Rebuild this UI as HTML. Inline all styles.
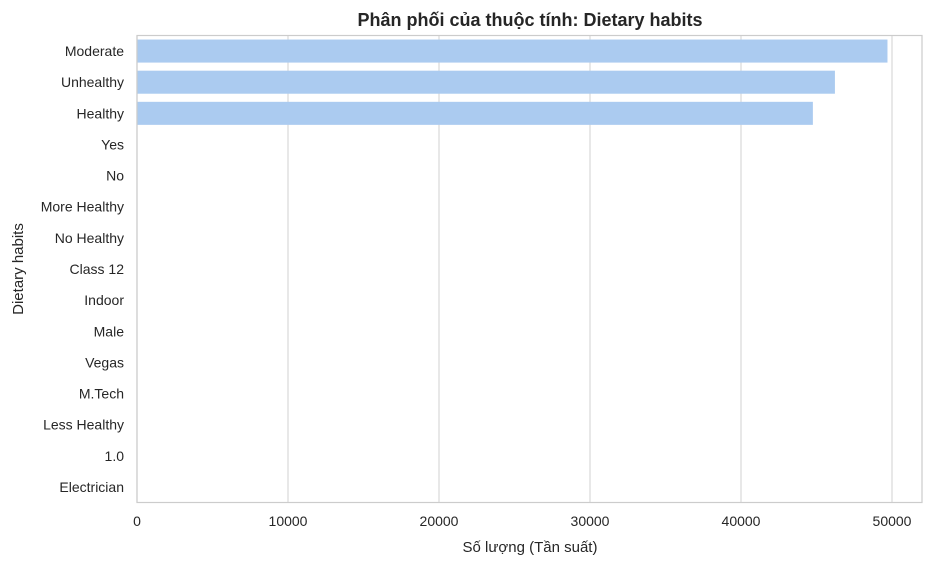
<!DOCTYPE html>
<html><head><meta charset="utf-8"><style>
body{margin:0;background:#fff;}
svg text{font-family:"Liberation Sans",sans-serif;fill:#262626;}
</style></head><body>
<svg id="chart" width="934" height="564">
<text x="530" y="26" text-anchor="middle" font-size="18" font-weight="bold">Phân phối của thuộc tính: Dietary habits</text>
<g id="grid"></g><g id="bars"></g><g id="ylabels"></g><g id="xlabels"></g>
<rect x="137" y="35.5" width="785" height="467" fill="none" stroke="#cccccc" stroke-width="1.2"/>
<text x="530" y="552" text-anchor="middle" font-size="15">Số lượng (Tần suất)</text>
<text transform="translate(23,269) rotate(-90)" text-anchor="middle" font-size="15">Dietary habits</text>
</svg>
<script>
const categories=["Moderate","Unhealthy","Healthy","Yes","No","More Healthy","No Healthy","Class 12","Indoor","Male","Vegas","M.Tech","Less Healthy","1.0","Electrician"];
const counts=[49700,46220,44760,2,2,2,2,1,1,1,1,1,1,1,1];
const xTicks=[0,10000,20000,30000,40000,50000];
const ns="http://www.w3.org/2000/svg";
const L=137,T=35.5,B=502.5,scale=151/10000;
const band=(B-T)/categories.length;
const x=v=>L+v*scale;
const y=i=>T+i*band;
const grid=document.getElementById('grid'),bars=document.getElementById('bars'),yl=document.getElementById('ylabels'),xl=document.getElementById('xlabels');
xTicks.forEach(t=>{
 const ln=document.createElementNS(ns,'line');
 ln.setAttribute('x1',x(t));ln.setAttribute('x2',x(t));ln.setAttribute('y1',T);ln.setAttribute('y2',B);
 ln.setAttribute('stroke','#d9d9d9');ln.setAttribute('stroke-width','1.2');
 
 
 grid.appendChild(ln);
 const tx=document.createElementNS(ns,'text');
 tx.setAttribute('x',x(t));tx.setAttribute('y',526);tx.setAttribute('text-anchor','middle');tx.setAttribute('font-size','14');
 tx.textContent=t;
 
 
 xl.appendChild(tx);
});
categories.forEach((c,i)=>{
 const r=document.createElementNS(ns,'rect');
 r.setAttribute('x',L);r.setAttribute('y',y(i)+band*0.13);r.setAttribute('width',Math.max(0,x(counts[i])-L));r.setAttribute('height',band*0.74);
 r.setAttribute('fill','#abcbf0');
 
 
 bars.appendChild(r);
 const tx=document.createElementNS(ns,'text');
 tx.setAttribute('x',124);tx.setAttribute('y',y(i)+band/2+5);tx.setAttribute('text-anchor','end');tx.setAttribute('font-size','14');
 tx.textContent=c;
 
 
 yl.appendChild(tx);
});
</script>
</body></html>
